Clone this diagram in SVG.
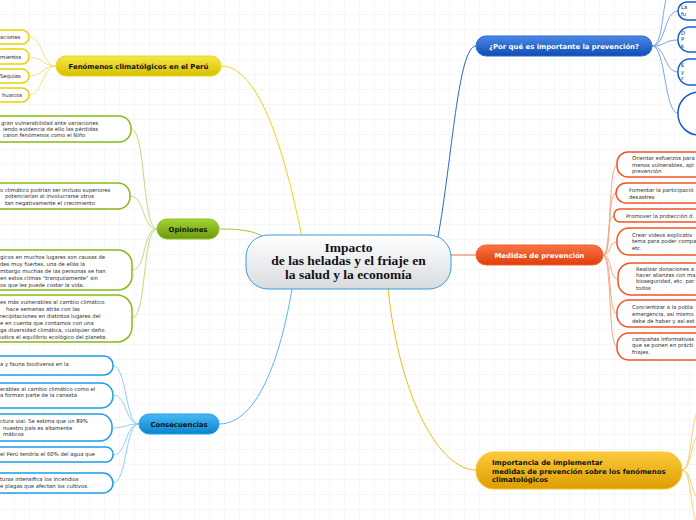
<svg xmlns="http://www.w3.org/2000/svg" width="696" height="520" viewBox="0 0 696 520">
<defs>
<pattern id="grid" width="15" height="15" patternUnits="userSpaceOnUse">
<path d="M15 0V15M0 15H15" fill="none" stroke="#efefef" stroke-width="1"/>
</pattern>
<linearGradient id="gCenter" x1="0" y1="0" x2="0" y2="1"><stop offset="0" stop-color="#ffffff"/><stop offset="1" stop-color="#d8dcdf"/></linearGradient>
<linearGradient id="gYel" x1="0" y1="0" x2="0" y2="1"><stop offset="0" stop-color="#f6e64a"/><stop offset="1" stop-color="#d6c000"/></linearGradient>
<linearGradient id="gGrn" x1="0" y1="0" x2="0" y2="1"><stop offset="0" stop-color="#a6d234"/><stop offset="1" stop-color="#6a9a0e"/></linearGradient>
<linearGradient id="gLBlue" x1="0" y1="0" x2="0" y2="1"><stop offset="0" stop-color="#48b8f4"/><stop offset="1" stop-color="#0884cc"/></linearGradient>
<linearGradient id="gDBlue" x1="0" y1="0" x2="0" y2="1"><stop offset="0" stop-color="#4c8ae6"/><stop offset="1" stop-color="#0e4cb4"/></linearGradient>
<linearGradient id="gOr" x1="0" y1="0" x2="0" y2="1"><stop offset="0" stop-color="#fa7444"/><stop offset="1" stop-color="#de3e0c"/></linearGradient>
<linearGradient id="gGold" x1="0" y1="0" x2="0" y2="1"><stop offset="0" stop-color="#fcca3c"/><stop offset="1" stop-color="#dc9e00"/></linearGradient>
<style>
.t{font-family:"DejaVu Sans",Verdana,sans-serif;font-size:5.3px;fill:#2a2a2a}
.h{font-family:"DejaVu Sans",Verdana,sans-serif;font-size:6.9px;font-weight:bold;fill:#111}
.hw{font-family:"DejaVu Sans",Verdana,sans-serif;font-size:6.9px;font-weight:bold;fill:#ffffff}
.c{font-family:"Liberation Serif","Times New Roman",serif;font-size:13.5px;font-weight:bold;fill:#111}
.cn{fill:none;stroke-width:1}
.by{fill:#fff;stroke:#e8d200;stroke-width:1.5}
.bg{fill:#fff;stroke:#86ba14;stroke-width:1.5}
.bl{fill:#fff;stroke:#1c9ce8;stroke-width:1.5}
.bd{fill:#fff;stroke:#1a5cd0;stroke-width:1.5}
.bo{fill:#fff;stroke:#f05424;stroke-width:1.5}
</style>
</defs>
<rect width="696" height="520" fill="#ffffff"/>
<rect width="696" height="520" fill="url(#grid)"/>

<g id="connectors">
<path class="cn" stroke="#f0d410" stroke-width="1.2" d="M221,66 C265,66 290,180 302,237"/>
<path class="cn" stroke="#9cc83a" stroke-width="1.2" d="M219,229 C240,229 252,230 266,238"/>
<path class="cn" stroke="#58b6f0" stroke-width="1.2" d="M219,424 C265,424 285,330 292,289"/>
<path class="cn" stroke="#2a66d4" stroke-width="1.2" d="M438,237 C452,160 458,46 476,46"/>
<path class="cn" stroke="#f86a3a" stroke-width="1.2" d="M451,255 L476,255"/>
<path class="cn" stroke="#f8b818" stroke-width="1.2" d="M388,289 C400,400 440,470 476,470"/>
<g stroke="#f2e480">
<path class="cn" d="M56,66 C42,66 43,37 29,37"/>
<path class="cn" d="M56,66 C42,66 43,57 29,57"/>
<path class="cn" d="M56,66 C42,66 43,76 29,76"/>
<path class="cn" d="M56,66 C42,66 43,95 29,95"/>
</g>
<g stroke="#bcdc7a">
<path class="cn" d="M157,229 C142,229 146,129 131,129"/>
<path class="cn" d="M157,229 C142,229 145,196 130,196"/>
<path class="cn" d="M157,229 C142,229 147,270 132,270"/>
<path class="cn" d="M157,229 C142,229 147,318 132,318"/>
</g>
<g stroke="#8cd0f6">
<path class="cn" d="M139,424 C125,424 127,366 113,366"/>
<path class="cn" d="M139,424 C125,424 127,395 113,395"/>
<path class="cn" d="M139,424 C125,424 126,428 112,428"/>
<path class="cn" d="M139,424 C125,424 127,455 113,455"/>
<path class="cn" d="M139,424 C125,424 127,483 113,483"/>
</g>
<g stroke="#7aa4ec">
<path class="cn" d="M652,46 C664,46 662,0 668,-4"/>
<path class="cn" d="M652,46 C666,46 664,11 678,11"/>
<path class="cn" d="M652,46 C666,46 664,40 678,40"/>
<path class="cn" d="M652,46 C666,46 664,72 678,72"/>
<path class="cn" d="M652,46 C666,46 664,113 678,113"/>
</g>
<g stroke="#f8a888">
<path class="cn" d="M603,255 C612,255 608,165 617,165"/>
<path class="cn" d="M603,255 C612,255 607,193 616,193"/>
<path class="cn" d="M603,255 C612,255 605,216 614,216"/>
<path class="cn" d="M603,255 C612,255 608,242 617,242"/>
<path class="cn" d="M603,255 C612,255 609,279 618,279"/>
<path class="cn" d="M603,255 C612,255 608,314 617,314"/>
<path class="cn" d="M603,255 C612,255 608,347 617,347"/>
</g>
<g stroke="#f8d070">
<path class="cn" d="M682,470 C692,470 690,420 700,405"/>
<path class="cn" d="M682,470 C692,470 690,440 700,432"/>
<path class="cn" d="M682,470 C692,470 690,495 700,500"/>
<path class="cn" d="M682,470 C692,470 690,515 698,525"/>
</g>
</g>

<g id="center">
<rect x="246" y="235" width="205" height="54" rx="22" fill="url(#gCenter)" stroke="#3a9ae0" stroke-width="1"/>
<text class="c" x="348.5" y="251.5" text-anchor="middle">Impacto</text>
<text class="c" x="348.5" y="265" text-anchor="middle">de las heladas y el friaje en</text>
<text class="c" x="348.5" y="278.5" text-anchor="middle">la salud y la economía</text>
</g>

<g id="fenomenos">
<rect x="56" y="56" width="165" height="20" rx="10" fill="url(#gYel)" stroke="#ecd810" stroke-width="1"/>
<text class="h" x="138.5" y="68.5" text-anchor="middle">Fenómenos climatólgicos en el Perú</text>
</g>
<g id="fen1"><rect class="by" x="-30" y="30" width="59" height="14" rx="7"/><text class="t" x="0" y="39">aciones</text></g>
<g id="fen2"><rect class="by" x="-30" y="49" width="59" height="15" rx="7"/><text class="t" x="0" y="58.5">mientos</text></g>
<g id="fen3"><rect class="by" x="-30" y="69" width="59" height="14" rx="7"/><text class="t" x="0" y="77.5">Sequías</text></g>
<g id="fen4"><rect class="by" x="-30" y="88" width="59" height="14" rx="7"/><text class="t" x="2" y="97">huaicos</text></g>

<g id="opiniones">
<rect x="157" y="219" width="62" height="20" rx="10" fill="url(#gGrn)" stroke="#8cc020" stroke-width="1"/>
<text class="h" x="188" y="231.5" text-anchor="middle">Opiniones</text>
</g>
<g id="op1"><rect class="bg" x="-30" y="116" width="161" height="26" rx="12"/>
<text class="t" x="1" y="125">gran vulnerabilidad ante variaciones</text>
<text class="t" x="3" y="131">iendo evidencia de ello las pérdidas</text>
<text class="t" x="3" y="137">caron fenómenos como el Niño</text></g>
<g id="op2"><rect class="bg" x="-30" y="183" width="160" height="26" rx="12"/>
<text class="t" x="0" y="192">o climático podrían ser incluso superiores</text>
<text class="t" x="5" y="198">potenciarían al involucrarse otros</text>
<text class="t" x="5" y="204.5">tan negativamente el crecimiento</text></g>
<g id="op3"><rect class="bg" x="-30" y="250" width="162" height="40" rx="14"/>
<text class="t" x="0" y="259">gicos en muchos lugares son causas de</text>
<text class="t" x="0" y="266">des muy fuertes, una de ellas la</text>
<text class="t" x="0" y="273">mbargo muchas de las personas se han</text>
<text class="t" x="0" y="280">en estos climas "tranquilamente" sin</text>
<text class="t" x="0" y="286.5">os que les puede costar la vida.</text></g>
<g id="op4"><rect class="bg" x="-30" y="295" width="162" height="47" rx="15"/>
<text class="t" x="0" y="304">es más vulnerables al cambio climático</text>
<text class="t" x="6" y="311">hace semanas atrás con las</text>
<text class="t" x="0" y="318">recipitaciones en distintos lugares del</text>
<text class="t" x="0" y="325">e en cuenta que contamos con una</text>
<text class="t" x="0" y="332">ga diversidad climática, cualquier daño</text>
<text class="t" x="0" y="339">udica el equilibrio ecológico del planeta.</text></g>

<g id="consecuencias">
<rect x="139" y="414" width="80" height="20" rx="10" fill="url(#gLBlue)" stroke="#20a0ea" stroke-width="1"/>
<text class="h" x="179" y="426.5" text-anchor="middle">Consecuencias</text>
</g>
<g id="co1"><rect class="bl" x="-30" y="356" width="143" height="19" rx="9"/><text class="t" x="0" y="366">a y fauna biodiversa en la</text></g>
<g id="co2"><rect class="bl" x="-30" y="383" width="143" height="25" rx="12"/>
<text class="t" x="0" y="391">erables al cambio climático como el</text>
<text class="t" x="0" y="397">a forman parte de la canasta</text></g>
<g id="co3"><rect class="bl" x="-30" y="414" width="142" height="27" rx="12"/>
<text class="t" x="0" y="423">ctura vial. Se estima que un 89%</text>
<text class="t" x="3" y="430">nuestro país es altamente</text>
<text class="t" x="3" y="436">máticos</text></g>
<g id="co4"><rect class="bl" x="-30" y="447" width="143" height="15" rx="7"/><text class="t" x="0" y="456">el Perú tendría el 60% del agua que</text></g>
<g id="co5"><rect class="bl" x="-30" y="473" width="143" height="20" rx="10"/>
<text class="t" x="0" y="481">turas intensifica los incendios</text>
<text class="t" x="0" y="488">e plagas que afectan los cultivos.</text></g>

<g id="porque">
<rect x="476" y="36" width="176" height="20" rx="10" fill="url(#gDBlue)" stroke="#2a66d4" stroke-width="1"/>
<text class="hw" x="564" y="48.5" text-anchor="middle">¿Por qué es importante la prevención?</text>
</g>
<g id="pq1"><rect class="bd" x="678" y="2" width="40" height="18" rx="9"/><text class="t" x="681" y="9">La</text><text class="t" x="681" y="15.5">fu</text></g>
<g id="pq2"><rect class="bd" x="678" y="27" width="40" height="25" rx="12"/><text class="t" x="681" y="35">D</text><text class="t" x="681" y="41">P</text><text class="t" x="681" y="48">k</text></g>
<g id="pq3"><rect class="bd" x="678" y="59" width="40" height="26" rx="12"/><text class="t" x="681" y="67">E</text><text class="t" x="681" y="74">y</text><text class="t" x="681" y="80">c</text></g>
<g id="pq4"><rect class="bd" x="678" y="92" width="50" height="43" rx="21"/></g>

<g id="medidas">
<rect x="476" y="245" width="127" height="20" rx="10" fill="url(#gOr)" stroke="#f06030" stroke-width="1"/>
<text class="hw" x="539.5" y="257.5" text-anchor="middle">Medidas de prevención</text>
</g>
<g id="me1"><rect class="bo" x="617" y="152" width="100" height="25" rx="11"/>
<text class="t" x="632" y="160">Orientar esfuerzos para</text>
<text class="t" x="632" y="166.5">menos vulnerables, apl</text>
<text class="t" x="632" y="173">prevención</text></g>
<g id="me2"><rect class="bo" x="616" y="183" width="100" height="20" rx="10"/>
<text class="t" x="629" y="192">Fomentar la participació</text>
<text class="t" x="629" y="198.5">desastres</text></g>
<g id="me3"><rect class="bo" x="614" y="209" width="100" height="13" rx="6"/>
<text class="t" x="626" y="218">Promover la protección d</text></g>
<g id="me4"><rect class="bo" x="617" y="228" width="100" height="27" rx="12"/>
<text class="t" x="632" y="236.5">Crear videos explicativ</text>
<text class="t" x="632" y="243">tema para poder compa</text>
<text class="t" x="632" y="249.5">etc.</text></g>
<g id="me5"><rect class="bo" x="618" y="263" width="100" height="32" rx="13"/>
<text class="t" x="636" y="271">Realizar donaciones a</text>
<text class="t" x="636" y="277">hacer alianzas con ma</text>
<text class="t" x="636" y="283">bioseguridad, etc. par</text>
<text class="t" x="636" y="289.5">todos</text></g>
<g id="me6"><rect class="bo" x="617" y="300" width="100" height="27" rx="12"/>
<text class="t" x="632" y="309">Concientizar a la pobla</text>
<text class="t" x="632" y="316">emergencia, así mismo</text>
<text class="t" x="632" y="322.5">debe de haber y así est</text></g>
<g id="me7"><rect class="bo" x="617" y="333" width="100" height="27" rx="12"/>
<text class="t" x="632" y="341">campañas informativas</text>
<text class="t" x="632" y="347">que se ponen en prácti</text>
<text class="t" x="632" y="353.5">friajes.</text></g>

<g id="importancia">
<rect x="476" y="452" width="206" height="37" rx="18" fill="url(#gGold)" stroke="#f8c428" stroke-width="1"/>
<text class="h" x="492" y="465">Importancia de implementar</text>
<text class="h" x="492" y="473.5">medidas de prevención sobre los fenómenos</text>
<text class="h" x="492" y="482">climatológicos</text>
</g>
</svg>
